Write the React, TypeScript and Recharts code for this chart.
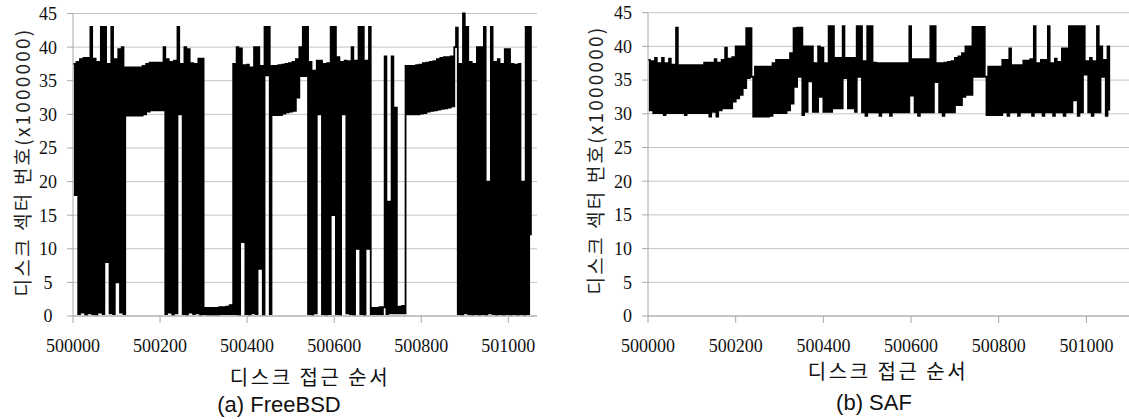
import React from "react";
import { LineChart, Line, XAxis, YAxis, CartesianGrid } from "recharts";

// sector numbers (x1000000), one sample every 4 accesses starting at 500000
const accessStep = 4;
const accessStart = 500000;

const freebsdSector = [
  37.5, 18, 37.8, 0.3, 38.2, 0.5, 38.4, 0.2, 38.4, 0.4,
  43, 0.3, 38.3, 0.2, 37.8, 0.5, 43, 0.3, 43, 8,
  37.5, 0.4, 43, 0.3, 38.2, 5, 39.7, 0.5, 40, 0.3,
  37.0, 29.8, 37.0, 29.8, 37.0, 29.8, 37.0, 29.8, 37.0, 29.8,
  37.2, 30.0, 37.5, 30.4, 37.7, 30.6, 37.7, 30.6, 37.7, 30.6,
  37.7, 30.6,
  40, 0.3, 38.2, 0.5, 37.8, 0.2, 38, 0.4, 43, 30,
  37.5, 0.3, 40, 0.2, 39.7, 0.5, 37.6, 0.3, 37.5, 0.4,
  38.3, 0.2, 38.3, 0.3,
  1.2, 0.2, 1.2, 0.2, 1.2, 0.2, 1.2, 0.2, 1.3, 0.3,
  1.3, 0.3, 1.4, 0.3, 1.6, 0.3,
  37.5, 0.3, 40, 0.2, 39.8, 11, 37.3, 0.3, 37.4, 0.2,
  37, 0.4, 40, 0.3, 40, 7, 37.2, 0.2,
  43, 35.8, 43, 0.3,
  37.2, 29.9, 37.2, 29.9, 37.3, 29.9, 37.4, 30.1, 37.5, 30.3,
  37.6, 30.4, 37.8, 30.5, 38.2, 32.5, 40, 35.7,
  43, 35.7, 43,
  0.3, 37.8, 0.2, 36.5, 0.4, 38, 30, 38, 0.3, 37.5,
  0.2, 37.6, 0.3, 43, 15, 43, 0.3, 38.5, 0.2, 37.8,
  30, 38, 0.4, 37.9, 0.3, 40, 0.2, 38, 10, 43,
  0.3, 43, 0.2, 38, 10, 43, 0.3,
  1.2, 0.3, 1.2, 0.3, 1.3, 0.3, 1.3, 38.6, 0.3, 17,
  0.4, 38.6, 0.4, 31, 0.4, 1.4, 0.4, 1.5, 0.4,
  37.2, 30.0, 37.2, 30.0, 37.2, 30.0, 37.3, 30.0, 37.4, 30.1,
  37.6, 30.2, 37.7, 30.4, 37.8, 30.5, 37.9, 30.6, 38.2, 30.7,
  38.4, 30.8, 38.5, 30.9, 38.5, 31.0, 38.6, 31.2, 40,
  42.9, 0.3, 37.5, 0.2, 45, 0.4, 43, 0.3, 37.8, 0.2,
  37.5, 0.3, 40, 0.2, 40, 0.3, 43, 0.2, 20, 0.4,
  43, 0.3, 37.8, 0.2, 38.2, 0.3, 37.5, 0.2, 39.7, 0.3,
  39.7, 0.2, 37.5, 0.3, 37.4, 0.2, 37.5, 0.3, 20, 0.2,
  43, 0.3, 43, 12,
];

const safSector = [
  38, 30.5, 37.8, 30.1, 38.3, 30.1, 37.5, 30.1, 38.3, 29.8,
  37.5, 30.1, 38.2, 30.1, 37.3, 30.1, 42.8, 30.1, 37.2, 30.1,
  37.2, 29.8, 37.2, 30.1, 37.2, 30.1, 37.2, 30.1, 37.2, 30.1,
  37.2, 30.1, 37.6, 30.1, 37.6, 29.6, 37.6, 30.3, 38.1, 29.6,
  37.6, 30.5, 38, 30.8, 39.8, 30.8, 38.2, 30.8, 38.4, 31.8,
  40, 32.3, 40, 32.8, 40, 33.8, 42.7, 35.3, 42.7, 35.5,
  29.6, 37, 29.6, 37, 29.6, 37, 29.6, 37, 29.6, 37,
  29.7, 37.5, 30.1, 38, 30.1, 38, 30.1, 38, 30.1, 38,
  30.5, 39, 31.5, 42.7, 34, 42.8, 35.5, 42.8, 29.8, 40,
  30.3, 40, 34.8, 40, 30.3, 37.5, 30.3, 40, 32.5, 39.8,
  30.3, 37.5, 30.3, 43, 30.3, 43, 30.8, 38.3, 30.8, 38.3,
  30.8, 43, 35.3, 38.3, 30.8, 38.3, 30.8, 38.3, 30.3, 43,
  35.5, 43, 30.2, 37.8, 29.7, 43, 30.2, 43, 30.2, 37.6,
  30.2, 37.5, 29.7, 37.5, 30.2, 37.5, 30.2, 37.5, 29.7, 37.5,
  30.2, 37.5, 30.2, 37.5, 30.2, 37.5, 30.2, 37.5, 30.2, 43,
  32.7, 38.1, 30.2, 38.1, 29.7, 38.1, 30.2, 38.1, 30.2, 38.1,
  30.2, 43, 30.2, 43, 34.7, 37.5, 30.2, 37.5, 29.7, 37.6,
  30.2, 37.7, 30.2, 37.8, 30.2, 38.3, 31.3, 38.5, 31.3, 39,
  32.5, 40, 32.8, 40, 32.8, 42.9, 35.5, 42.9, 35.5, 42.9,
  35.5, 42.9, 35.5, 29.8, 37, 29.8, 37, 29.8, 37, 29.8,
  37, 29.8, 38, 30.2, 38, 29.7, 39.7, 30.2, 37.2, 30.2,
  37.2, 29.7, 37.2, 30.2, 37.9, 30.2, 37.9, 30.2, 38.1, 29.7,
  43, 30.2, 37.5, 30.2, 38, 29.7, 38, 30.2, 43, 30.2,
  37.5, 29.7, 38.2, 30.2, 37.7, 30.2, 39.7, 29.7, 39.7, 30.2,
  43, 30.2, 43, 32, 43, 29.7, 43, 30.2, 43, 35.8,
  37.8, 30.2, 38.3, 29.7, 37.8, 30.2, 43, 30.2, 40, 35.5,
  38, 29.7, 40, 30.5,
];

const xTicks = [500000, 500200, 500400, 500600, 500800, 501000];
const yTicks = [0, 5, 10, 15, 20, 25, 30, 35, 40, 45];

const toRows = (values: number[]) =>
  values.map((v, i) => ({ access: accessStart + i * accessStep, sector: v }));

const freebsdRows = toRows(freebsdSector);
const safRows = toRows(safSector);

const serif = "'Liberation Serif', 'Times New Roman', serif";
const korean = "'Noto Sans CJK KR', 'Noto Sans', sans-serif";
const sans = "'Liberation Sans', Arial, sans-serif";
const gridColor = "#c4c4c4";
const axisColor = "#a8a8a8";
const tickFont = { fontFamily: serif, fontSize: 18, fill: "#111" };

interface PanelProps {
  rows: { access: number; sector: number }[];
  left: number;
  width: number;
  axisWidth: number;
  top: number;
  xMax: number;
  yAnchor: "middle" | "end";
  yMargin: number;
}

function Panel({ rows, left, width, axisWidth, top, xMax, yAnchor, yMargin }: PanelProps) {
  const xAxisHeight = 30;
  return (
    <div style={{ position: "absolute", left, top: 0 }}>
      <LineChart
        width={width}
        height={420}
        data={rows}
        margin={{ top, right: 0, left: 0, bottom: 420 - 316 - xAxisHeight }}
      >
        <CartesianGrid vertical={false} stroke={gridColor} strokeWidth={1} />
        <XAxis
          dataKey="access"
          type="number"
          domain={[accessStart, xMax]}
          ticks={xTicks}
          height={xAxisHeight}
          stroke={axisColor}
          tickSize={7}
          tickMargin={16}
          tick={tickFont}
          interval={0}
        />
        <YAxis
          type="number"
          domain={[0, 45]}
          ticks={yTicks}
          width={axisWidth}
          stroke={axisColor}
          tickSize={6}
          tickMargin={yMargin}
          tick={{ ...tickFont, textAnchor: yAnchor }}
          interval={0}
        />
        <Line
          type="stepAfter"
          dataKey="sector"
          stroke="#000"
          strokeWidth={1.8}
          dot={false}
          isAnimationActive={false}
        />
      </LineChart>
    </div>
  );
}

function YTitle({ cx, cy }: { cx: number; cy: number }) {
  const w = 300;
  const h = 22;
  return (
    <div
      style={{
        position: "absolute",
        left: cx - w / 2,
        top: cy - h / 2,
        width: w,
        height: h,
        lineHeight: `${h}px`,
        textAlign: "center",
        transform: "rotate(-90deg)",
        fontFamily: korean,
        fontSize: 19,
        letterSpacing: 2.2,
        color: "#222",
        whiteSpace: "nowrap",
      }}
    >
      디스크 섹터 번호(x1000000)
    </div>
  );
}

function Caption({ cx, cy, text, font, size, spacing }: { cx: number; cy: number; text: string; font: string; size: number; spacing?: number }) {
  const w = 200;
  const h = 22;
  return (
    <div
      style={{
        position: "absolute",
        left: cx - w / 2,
        top: cy - h / 2,
        width: w,
        height: h,
        lineHeight: `${h}px`,
        textAlign: "center",
        fontFamily: font,
        fontSize: size,
        letterSpacing: spacing ?? 0,
        color: "#111",
        whiteSpace: "nowrap",
      }}
    >
      {text}
    </div>
  );
}

export default function App() {
  return (
    <div
      style={{
        position: "absolute",
        left: 0,
        top: 0,
        width: 1129,
        height: 420,
        background: "#fff",
        overflow: "hidden",
      }}
    >
      <Panel
        rows={freebsdRows}
        left={0}
        width={537}
        axisWidth={73}
        top={13.5}
        xMax={501066}
        yAnchor="middle"
        yMargin={19}
      />
      <Panel
        rows={safRows}
        left={560}
        width={569}
        axisWidth={88}
        top={12.7}
        xMax={501097}
        yAnchor="end"
        yMargin={10}
      />
      <YTitle cx={21.5} cy={162} />
      <YTitle cx={595} cy={160} />
      <Caption cx={310} cy={377} text="디스크 접근 순서" font={korean} size={20} spacing={2.5} />
      <Caption cx={888} cy={371} text="디스크 접근 순서" font={korean} size={20} spacing={2.5} />
      <Caption cx={279} cy={405} text="(a) FreeBSD" font={sans} size={22} />
      <Caption cx={874} cy={403} text="(b) SAF" font={sans} size={22} />
    </div>
  );
}
